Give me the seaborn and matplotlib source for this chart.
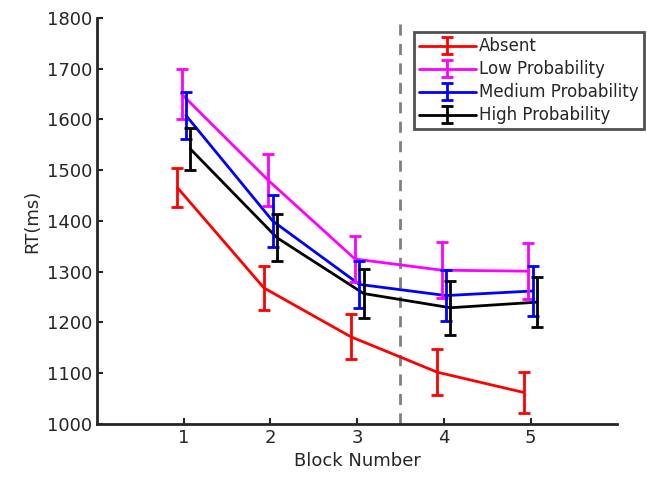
import numpy as np
import pandas as pd
import matplotlib
matplotlib.use("Agg")
import matplotlib.pyplot as plt
import seaborn as sns
from matplotlib.legend_handler import HandlerTuple

# dados (media +/- erro)
blocks = [1, 2, 3, 4, 5]
conditions = ["Absent", "Low Probability", "Medium Probability", "High Probability"]
absent_rt = [1466, 1268, 1172, 1102, 1062]
absent_err = [39, 43, 44, 45, 41]
low_rt = [1650, 1480, 1325, 1303, 1301]
low_err = [50, 51, 45, 55, 55]
medium_rt = [1608, 1400, 1275, 1253, 1262]
medium_err = [47, 51, 47, 50, 50]
high_rt = [1542, 1367, 1257, 1229, 1240]
high_err = [42, 46, 49, 53, 49]

offsets = [-0.075, -0.025, 0.025, 0.075]
palette = {"Absent": "#ff0000", "Low Probability": "#ff00ff",
           "Medium Probability": "#0000ff", "High Probability": "#000000"}

rts = [absent_rt, low_rt, medium_rt, high_rt]
errs = [absent_err, low_err, medium_err, high_err]

rows = []
for cond, off, rt, er in zip(conditions, offsets, rts, errs):
    for b, v, e in zip(blocks, rt, er):
        rows.append({"Block": b + off, "RT": v, "err": e, "Condition": cond})
df = pd.DataFrame(rows)

sns.set_style("ticks")
plt.rcParams["font.family"] = ["DejaVu Sans"]
plt.rcParams["axes.edgecolor"] = "#262626"
plt.rcParams["text.color"] = "#262626"
plt.rcParams["xtick.color"] = "#262626"
plt.rcParams["ytick.color"] = "#262626"

fig = plt.figure(figsize=(6.47, 4.84), dpi=100)
ax = fig.add_axes([0.150, 0.124, 0.804, 0.839])

ax.axvline(3.5, color="#808080", linestyle=(0, (4, 3)), linewidth=2, zorder=1)
n_before = len(ax.lines)

sns.lineplot(data=df, x="Block", y="RT", hue="Condition", palette=palette,
             hue_order=conditions, linewidth=2, legend=False, ax=ax,
             estimator=None, sort=True)
series_lines = ax.lines[n_before:n_before + len(conditions)]

handles = []
for line, cond in zip(series_lines, conditions):
    sub = df[df["Condition"] == cond]
    eb = ax.errorbar(sub["Block"], sub["RT"], yerr=sub["err"], fmt="none",
                     ecolor=palette[cond], elinewidth=2, capsize=4, capthick=2)
    handles.append((line, eb))

ax.set_xlim(0, 6)
ax.set_ylim(1000, 1800)
ax.set_xticks(blocks)
ax.set_yticks(np.arange(1000, 1801, 100))
ax.tick_params(direction="in", length=4, width=1.5, labelsize=13)
for s in ["left", "bottom"]:
    ax.spines[s].set_linewidth(2)
sns.despine(ax=ax)
ax.set_xlabel("Block Number", fontsize=13)
ax.set_ylabel("RT(ms)", fontsize=13)

leg = ax.legend(handles, conditions, handler_map={tuple: HandlerTuple(ndivide=1)},
                loc="upper right", bbox_to_anchor=(0.995, 0.933),
                bbox_transform=fig.transFigure, fontsize=12, frameon=True,
                fancybox=False, handlelength=3.4, handletextpad=0.2,
                labelspacing=0.3, borderpad=0.3, borderaxespad=0)
leg.get_frame().set_edgecolor("#262626")
leg.get_frame().set_linewidth(2)

fig.savefig("out.png", dpi=100)
